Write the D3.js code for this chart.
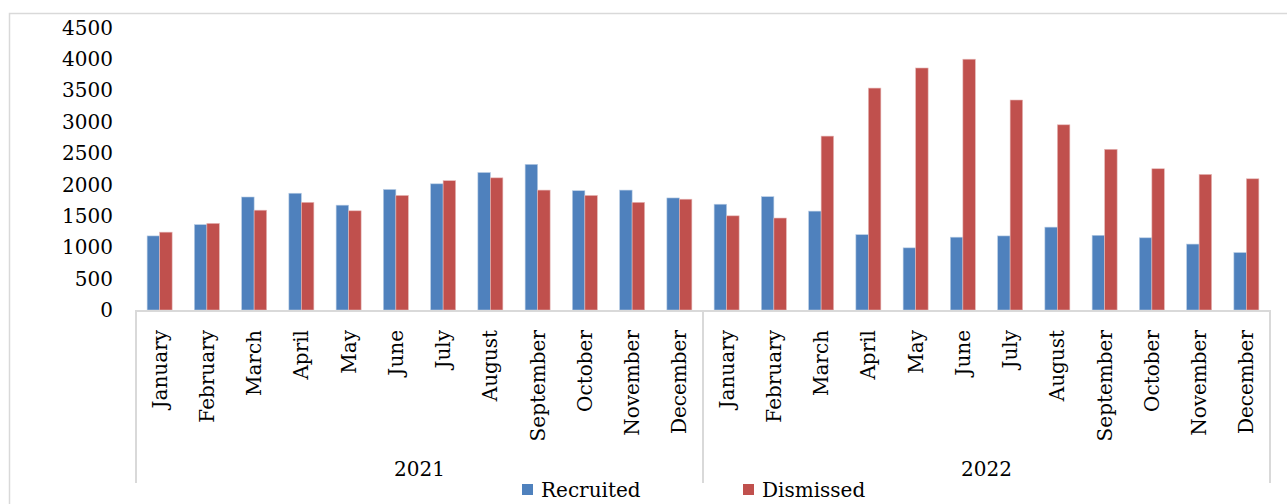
<!DOCTYPE html>
<html>
<head>
<meta charset="utf-8">
<script src="https://cdn.jsdelivr.net/npm/d3@7"></script>
<style>
  body { margin: 0; background: #fff; }
  text { font-family: "DejaVu Serif", serif; fill: #000; }
</style>
</head>
<body>
<svg width="1287" height="504"></svg>
<script>
var months = ["January", "February", "March", "April", "May", "June", "July",
              "August", "September", "October", "November", "December"];
var years = ["2021", "2022"];
var recruited = [1180, 1360, 1800, 1860, 1670, 1920, 2010, 2190, 2320, 1900, 1910, 1785,
                 1685, 1805, 1575, 1200, 990, 1160, 1180, 1320, 1190, 1150, 1050, 915];
var dismissed = [1240, 1380, 1590, 1715, 1580, 1825, 2060, 2105, 1910, 1825, 1715, 1765,
                 1500, 1465, 2770, 3535, 3855, 3995, 3345, 2950, 2560, 2250, 2160, 2090];
var yTicks = [0, 500, 1000, 1500, 2000, 2500, 3000, 3500, 4000, 4500];
var seriesNames = ["Recruited", "Dismissed"];
var colors = ["#4f81bd", "#c0504d"];

var svg = d3.select("svg"),
    margin = {top: 27.5, right: 17, bottom: 194, left: 136},
    width = +svg.attr("width") - margin.left - margin.right,
    height = +svg.attr("height") - margin.top - margin.bottom;

// outer chart border
svg.append("rect")
    .attr("x", 9.5).attr("y", 13.5)
    .attr("width", 1290).attr("height", 500)
    .style("fill", "none").style("stroke", "#d9d9d9").style("stroke-width", "1.5px");

var data = [];
years.forEach(function(yr, yi) {
  months.forEach(function(m, mi) {
    var i = yi * 12 + mi;
    data.push({key: yr + "-" + m, year: yr, month: m, values: [recruited[i], dismissed[i]]});
  });
});

var x = d3.scaleBand().domain(data.map(function(d) { return d.key; })).range([0, width]);
var x1 = d3.scaleBand().domain([0, 1]).range([x.bandwidth() / 2 - 12.5, x.bandwidth() / 2 + 12.5]);
var y = d3.scaleLinear().domain([0, 4500]).range([height, 0]);

var g = svg.append("g")
    .attr("transform", "translate(" + margin.left + "," + margin.top + ")");

// y tick labels
g.selectAll(".ytick")
  .data(yTicks)
  .enter().append("text")
    .attr("class", "ytick")
    .attr("x", -23)
    .attr("y", function(d) { return y(d); })
    .attr("dy", "0.36em")
    .style("text-anchor", "end")
    .style("font-size", "20px")
    .text(function(d) { return d; });

// bars
var grp = g.selectAll(".grp")
  .data(data)
  .enter().append("g")
    .attr("class", "grp")
    .attr("transform", function(d) { return "translate(" + x(d.key) + ",0)"; });

grp.selectAll("rect")
  .data(function(d) { return d.values; })
  .enter().append("rect")
    .attr("x", function(d, i) { return x1(i); })
    .attr("y", function(d) { return y(d); })
    .attr("width", x1.bandwidth())
    .attr("height", function(d) { return height - y(d); })
    .style("fill", function(d, i) { return colors[i]; })
    .style("stroke", function(d, i) { return i ? "#e6b9b8" : "#b9cde5"; })
    .style("stroke-width", "0.6px");

// axis lines
var axisColor = "#d9d9d9";
g.append("line")
    .attr("x1", 0).attr("x2", width)
    .attr("y1", height + 1).attr("y2", height + 1)
    .style("stroke", axisColor).style("stroke-width", "2px");

var sepY = 483 - margin.top;
[0, 12, 24].forEach(function(k) {
  var xp = k < 24 ? x(data[k].key) : width;
  g.append("line")
      .attr("x1", xp).attr("x2", xp)
      .attr("y1", height).attr("y2", sepY)
      .style("stroke", axisColor).style("stroke-width", "2px");
});

// month labels
grp.append("text")
    .attr("transform", function(d) {
      return "translate(" + (x.bandwidth() / 2 + 7) + "," + (height + 20) + ") rotate(-90)";
    })
    .style("text-anchor", "end")
    .style("font-size", "20px")
    .text(function(d) { return d.month; });

// year labels
years.forEach(function(yr, yi) {
  var x0 = x(data[yi * 12].key), xe = yi ? width : x(data[12].key);
  g.append("text")
      .attr("x", (x0 + xe) / 2)
      .attr("y", 476 - margin.top)
      .style("text-anchor", "middle")
      .style("font-size", "20px")
      .text(yr);
});

// legend
var legend = svg.selectAll(".legend")
  .data(seriesNames)
  .enter().append("g")
    .attr("class", "legend")
    .attr("transform", function(d, i) { return "translate(" + (522 + i * 221) + ",484)"; });

legend.append("rect")
    .attr("width", 11).attr("height", 11)
    .style("fill", function(d, i) { return colors[i]; });

legend.append("text")
    .attr("x", 19).attr("y", 13)
    .style("font-size", "20px")
    .text(function(d) { return d; });
</script>
</body>
</html>
